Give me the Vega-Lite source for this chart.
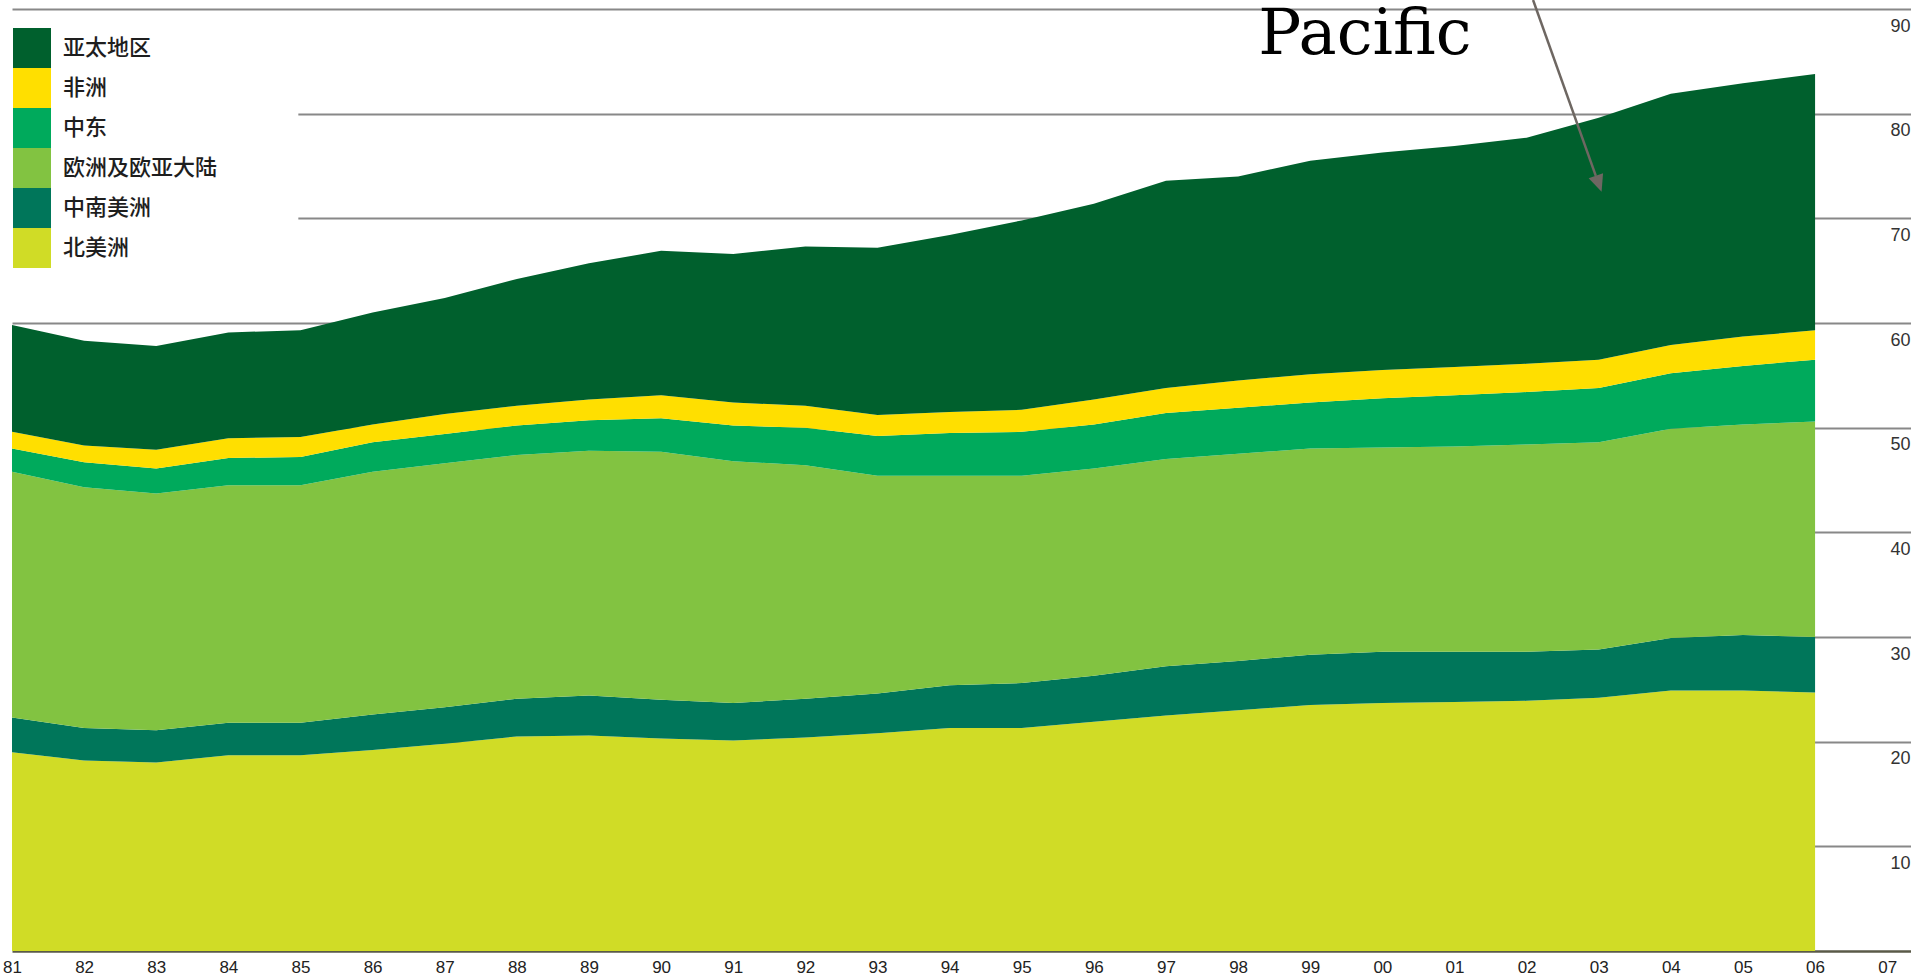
{
  "$schema": "https://vega.github.io/schema/vega-lite/v6.json",
  "autosize": "none",
  "width": 1899,
  "height": 951,
  "padding": {"left": 12, "top": 0, "right": 0, "bottom": 22},
  "background": "white",
  "config": {"view": {"stroke": null}},
  "data": {
    "values": [
      {"year": 1981, "北美洲": 19.0, "中南美洲": 3.3, "欧洲及欧亚大陆": 23.5, "中东": 2.2, "非洲": 1.6, "亚太地区": 10.2},
      {"year": 1982, "北美洲": 18.2, "中南美洲": 3.1, "欧洲及欧亚大陆": 23.0, "中东": 2.4, "非洲": 1.6, "亚太地区": 10.0},
      {"year": 1983, "北美洲": 18.0, "中南美洲": 3.1, "欧洲及欧亚大陆": 22.6, "中东": 2.4, "非洲": 1.8, "亚太地区": 9.9},
      {"year": 1984, "北美洲": 18.7, "中南美洲": 3.1, "欧洲及欧亚大陆": 22.7, "中东": 2.6, "非洲": 1.9, "亚太地区": 10.1},
      {"year": 1985, "北美洲": 18.7, "中南美洲": 3.1, "欧洲及欧亚大陆": 22.7, "中东": 2.7, "非洲": 1.9, "亚太地区": 10.2},
      {"year": 1986, "北美洲": 19.2, "中南美洲": 3.4, "欧洲及欧亚大陆": 23.2, "中东": 2.8, "非洲": 1.7, "亚太地区": 10.7},
      {"year": 1987, "北美洲": 19.8, "中南美洲": 3.5, "欧洲及欧亚大陆": 23.3, "中东": 2.8, "非洲": 1.9, "亚太地区": 11.1},
      {"year": 1988, "北美洲": 20.5, "中南美洲": 3.6, "欧洲及欧亚大陆": 23.3, "中东": 2.8, "非洲": 1.9, "亚太地区": 12.1},
      {"year": 1989, "北美洲": 20.6, "中南美洲": 3.8, "欧洲及欧亚大陆": 23.4, "中东": 2.9, "非洲": 2.0, "亚太地区": 13.0},
      {"year": 1990, "北美洲": 20.3, "中南美洲": 3.7, "欧洲及欧亚大陆": 23.7, "中东": 3.2, "非洲": 2.2, "亚太地区": 13.8},
      {"year": 1991, "北美洲": 20.1, "中南美洲": 3.6, "欧洲及欧亚大陆": 23.1, "中东": 3.4, "非洲": 2.2, "亚太地区": 14.2},
      {"year": 1992, "北美洲": 20.4, "中南美洲": 3.7, "欧洲及欧亚大陆": 22.3, "中东": 3.6, "非洲": 2.1, "亚太地区": 15.2},
      {"year": 1993, "北美洲": 20.8, "中南美洲": 3.8, "欧洲及欧亚大陆": 20.8, "中东": 3.8, "非洲": 2.0, "亚太地区": 16.0},
      {"year": 1994, "北美洲": 21.3, "中南美洲": 4.1, "欧洲及欧亚大陆": 20.0, "中东": 4.1, "非洲": 2.0, "亚太地区": 16.9},
      {"year": 1995, "北美洲": 21.3, "中南美洲": 4.3, "欧洲及欧亚大陆": 19.8, "中东": 4.2, "非洲": 2.1, "亚太地区": 18.1},
      {"year": 1996, "北美洲": 21.9, "中南美洲": 4.4, "欧洲及欧亚大陆": 19.8, "中东": 4.2, "非洲": 2.4, "亚太地区": 18.7},
      {"year": 1997, "北美洲": 22.5, "中南美洲": 4.7, "欧洲及欧亚大陆": 19.8, "中东": 4.4, "非洲": 2.4, "亚太地区": 19.8},
      {"year": 1998, "北美洲": 23.0, "中南美洲": 4.7, "欧洲及欧亚大陆": 19.8, "中东": 4.4, "非洲": 2.6, "亚太地区": 19.5},
      {"year": 1999, "北美洲": 23.5, "中南美洲": 4.8, "欧洲及欧亚大陆": 19.7, "中东": 4.4, "非洲": 2.7, "亚太地区": 20.4},
      {"year": 2000, "北美洲": 23.7, "中南美洲": 4.9, "欧洲及欧亚大陆": 19.5, "中东": 4.7, "非洲": 2.7, "亚太地区": 20.8},
      {"year": 2001, "北美洲": 23.8, "中南美洲": 4.8, "欧洲及欧亚大陆": 19.6, "中东": 4.9, "非洲": 2.7, "亚太地区": 21.1},
      {"year": 2002, "北美洲": 23.9, "中南美洲": 4.7, "欧洲及欧亚大陆": 19.8, "中东": 5.0, "非洲": 2.7, "亚太地区": 21.6},
      {"year": 2003, "北美洲": 24.2, "中南美洲": 4.6, "欧洲及欧亚大陆": 19.8, "中东": 5.2, "非洲": 2.7, "亚太地区": 23.1},
      {"year": 2004, "北美洲": 24.9, "中南美洲": 5.0, "欧洲及欧亚大陆": 20.0, "中东": 5.3, "非洲": 2.7, "亚太地区": 24.0},
      {"year": 2005, "北美洲": 24.9, "中南美洲": 5.3, "欧洲及欧亚大陆": 20.1, "中东": 5.6, "非洲": 2.8, "亚太地区": 24.2},
      {"year": 2006, "北美洲": 24.7, "中南美洲": 5.3, "欧洲及欧亚大陆": 20.6, "中东": 5.9, "非洲": 2.8, "亚太地区": 24.5}
    ]
  },
  "layer": [
    {
      "data": {"values": [{}]},
      "mark": {"type": "rect", "fill": "white"},
      "encoding": {
        "x": {"datum": 1981, "type": "quantitative"},
        "x2": {"datum": 1984.97},
        "y": {"datum": 63, "type": "quantitative"},
        "y2": {"datum": 88}
      }
    },
    {
      "transform": [
        {"fold": ["北美洲", "中南美洲", "欧洲及欧亚大陆", "中东", "非洲", "亚太地区"], "as": ["region", "value"]},
        {"calculate": "indexof(['北美洲','中南美洲','欧洲及欧亚大陆','中东','非洲','亚太地区'], datum.region)", "as": "ord"}
      ],
      "mark": {"type": "area", "interpolate": "linear"},
      "encoding": {
        "x": {
          "field": "year", "type": "quantitative",
          "scale": {"domain": [1981, 2007.33], "nice": false, "zero": false},
          "axis": {
            "title": null,
            "values": [1981,1982,1983,1984,1985,1986,1987,1988,1989,1990,1991,1992,1993,1994,1995,1996,1997,1998,1999,2000,2001,2002,2003,2004,2005,2006,2007],
            "format": "d",
            "labelExpr": "substring(datum.label, 2)",
            "grid": false,
            "ticks": false,
            "tickSize": 0,
            "domain": true,
            "domainColor": "#5a5a48",
            "domainWidth": 2.5,
            "labelFont": "Liberation Sans",
            "labelFontSize": 17,
            "labelColor": "#222222",
            "labelPadding": 8,
            "labelBaseline": "top",
            "labelFlush": false,
            "labelOverlap": false
          }
        },
        "y": {
          "field": "value", "type": "quantitative", "stack": "zero",
          "scale": {"domain": [0, 90.86], "nice": false},
          "axis": {
            "title": null,
            "orient": "right",
            "values": [10, 20, 30, 40, 50, 60, 70, 80, 90],
            "grid": true,
            "gridColor": "#888888",
            "gridWidth": 2,
            "domain": false,
            "ticks": false,
            "tickSize": 0,
            "labelPadding": -21,
            "labelAlign": "left",
            "labelBaseline": "alphabetic",
            "labelOffset": 22,
            "labelFont": "Liberation Sans",
            "labelFontSize": 18,
            "labelColor": "#333333",
            "labelFlush": false,
            "labelOverlap": false
          }
        },
        "color": {
          "field": "region", "type": "nominal",
          "scale": {
            "domain": ["亚太地区", "非洲", "中东", "欧洲及欧亚大陆", "中南美洲", "北美洲"],
            "range": ["#00602d", "#ffdf00", "#00aa5c", "#82c341", "#00765a", "#d0dc26"]
          },
          "legend": {
            "title": null,
            "orient": "none",
            "legendX": 0,
            "legendY": 28,
            "padding": 0,
            "symbolType": "M-0.95,-1H0.95V1H-0.95Z",
            "symbolSize": 1600,
            "symbolStrokeWidth": 0,
            "symbolOpacity": 1,
            "rowPadding": 0,
            "labelOffset": 11,
            "labelFont": "Noto Sans CJK SC",
            "labelFontSize": 22,
            "labelFontWeight": 500,
            "labelColor": "#1e1e1e",
            "labelLimit": 0
          }
        },
        "order": {"field": "ord", "type": "quantitative"}
      }
    },
    {
      "data": {"values": [{}]},
      "mark": {"type": "rule", "color": "#6e6762", "strokeWidth": 2.5},
      "encoding": {
        "x": {"datum": 2002.09, "type": "quantitative"},
        "y": {"datum": 90.86, "type": "quantitative"},
        "x2": {"datum": 2002.96},
        "y2": {"datum": 74.06}
      }
    },
    {
      "data": {"values": [{}]},
      "mark": {"type": "point", "shape": "M-0.45,-1L0.45,-1L0,0Z", "size": 1156, "filled": true, "color": "#6e6762", "opacity": 1, "angle": 340.3, "strokeWidth": 0},
      "encoding": {
        "x": {"datum": 2003.04, "type": "quantitative"},
        "y": {"datum": 72.54, "type": "quantitative"}
      }
    },
    {
      "data": {"values": [{}]},
      "mark": {"type": "text", "text": "Pacific", "font": "DejaVu Serif", "fontSize": 64, "align": "left", "baseline": "alphabetic", "color": "#000000"},
      "encoding": {
        "x": {"datum": 1998.28, "type": "quantitative"},
        "y": {"datum": 85.7, "type": "quantitative"}
      }
    }
  ]
}
